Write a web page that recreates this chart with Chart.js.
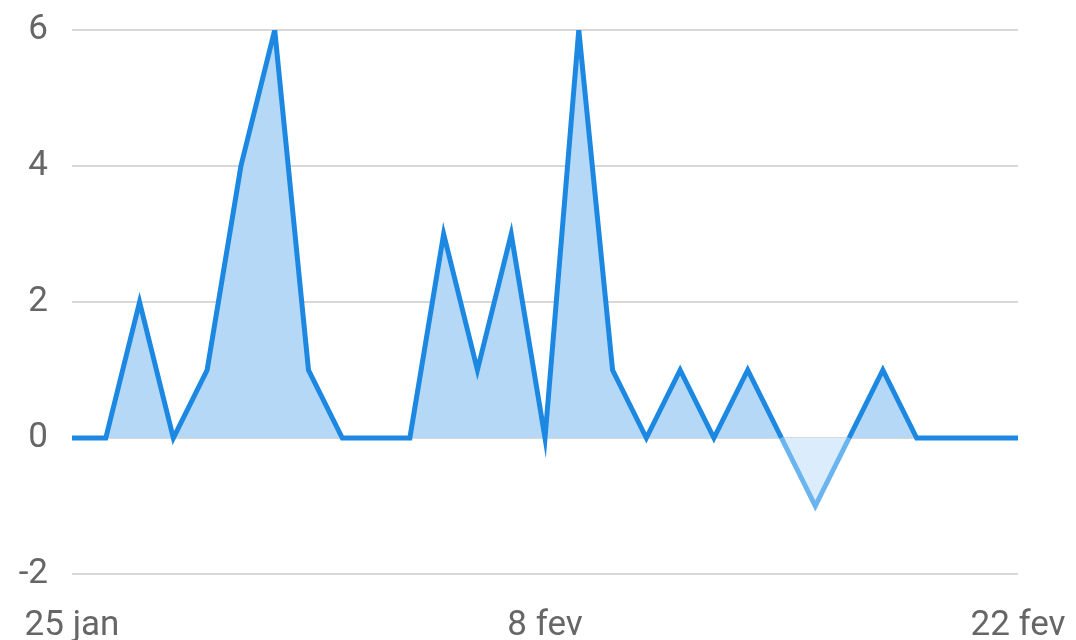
<!DOCTYPE html>
<html>
<head>
<meta charset="utf-8">
<script src="https://cdn.jsdelivr.net/npm/chart.js@4"></script>
<style>
  html, body { margin: 0; padding: 0; background: #fff; }
  #wrap { width: 1076px; height: 640px; }
</style>
</head>
<body>
<div id="wrap"><canvas id="chart" width="1076" height="640"></canvas></div>
<script>
const days = [
  '25 jan', '26 jan', '27 jan', '28 jan', '29 jan', '30 jan', '31 jan',
  '1 fev', '2 fev', '3 fev', '4 fev', '5 fev', '6 fev', '7 fev', '8 fev',
  '9 fev', '10 fev', '11 fev', '12 fev', '13 fev', '14 fev', '15 fev',
  '16 fev', '17 fev', '18 fev', '19 fev', '20 fev', '21 fev', '22 fev'
];
const values = [0, 0, 2, 0, 1, 4, 6, 1, 0, 0, 0, 3, 1, 3, 0, 6, 1, 0, 1, 0, 1, 0, -1, 0, 1, 0, 0, 0, 0];
const shownTicks = ['25 jan', '8 fev', '22 fev'];
const yTicks = [-2, 0, 2, 4, 6];

const lineBlue = '#1c88e2';
const lineLight = '#6ab4ef';

const ctx = document.getElementById('chart').getContext('2d');
new Chart(ctx, {
  type: 'line',
  data: {
    labels: days,
    datasets: [{
      data: values,
      borderColor: lineBlue,
      borderWidth: 5,
      pointRadius: 0,
      tension: 0,
      fill: { target: { value: 0 }, above: '#b5d8f7', below: '#dbedfc' },
      segment: {
        borderColor: c => (c.p0.parsed.y < 0 || c.p1.parsed.y < 0) ? lineLight : lineBlue
      }
    }]
  },
  options: {
    responsive: false,
    animation: false,
    layout: { padding: { top: 30, right: 58, left: 0, bottom: 0 } },
    plugins: { legend: { display: false }, tooltip: { enabled: false } },
    scales: {
      x: {
        afterFit: s => { s.height = 66; s.paddingLeft = 0; s.paddingRight = 0; },
        grid: { display: false },
        border: { display: false },
        ticks: {
          autoSkip: false,
          maxRotation: 0,
          padding: 23,
          color: '#666',
          font: { family: 'Roboto', size: 35 },
          callback: function (val) {
            const l = this.getLabelForValue(val);
            return shownTicks.includes(l) ? l : '';
          }
        }
      },
      y: {
        min: -2,
        max: 6,
        afterFit: s => { s.width = 72; s.paddingTop = 0; s.paddingBottom = 0; },
        afterBuildTicks: s => { s.ticks = yTicks.map(v => ({ value: v })); },
        grid: { color: '#d8d8d8', lineWidth: 2, drawTicks: false },
        border: { display: false },
        ticks: {
          padding: 24,
          color: '#666',
          font: { family: 'Roboto', size: 35 }
        }
      }
    }
  }
});
</script>
</body>
</html>
